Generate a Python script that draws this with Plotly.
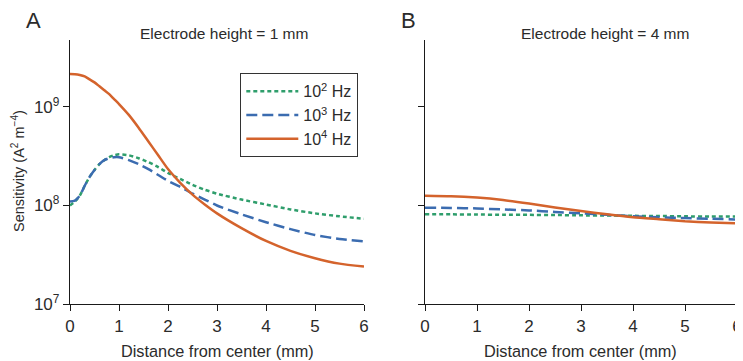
import plotly.graph_objects as go

# ---- data (log10 of sensitivity) ----
x_a = [0, 0.1, 0.2, 0.3, 0.4, 0.5, 0.6, 0.7, 0.8, 0.9, 1.0, 1.2, 1.4, 1.6, 1.8,
       2.0, 2.25, 2.5, 2.75, 3.0, 3.5, 4.0, 4.5, 5.0, 5.5, 6.0]
a_1e2_log = [8.0, 8.04, 8.10, 8.20, 8.29, 8.36, 8.42, 8.46, 8.49, 8.51, 8.52, 8.51,
             8.48, 8.44, 8.39, 8.33, 8.27, 8.21, 8.16, 8.12, 8.06, 8.01, 7.96, 7.92,
             7.89, 7.865]
a_1e3_log = [8.04, 8.05, 8.10, 8.20, 8.29, 8.36, 8.42, 8.46, 8.48, 8.49, 8.49, 8.46,
             8.42, 8.37, 8.31, 8.25, 8.19, 8.12, 8.06, 8.00, 7.91, 7.83, 7.76, 7.70,
             7.66, 7.635]
a_1e4_log = [9.335, 9.333, 9.325, 9.31, 9.28, 9.25, 9.21, 9.17, 9.13, 9.08, 9.03, 8.92,
             8.79, 8.65, 8.51, 8.37, 8.23, 8.11, 8.01, 7.92, 7.77, 7.64, 7.54, 7.465,
             7.41, 7.38]

x_b = [0, 0.5, 1.0, 1.5, 2.0, 2.5, 3.0, 3.5, 4.0, 4.5, 5.0, 5.5, 6.0]
b_1e2_log = [7.91, 7.91, 7.908, 7.906, 7.905, 7.903, 7.90, 7.898, 7.895, 7.893, 7.89,
             7.888, 7.887]
b_1e3_log = [7.977, 7.975, 7.97, 7.96, 7.95, 7.935, 7.92, 7.905, 7.89, 7.88, 7.872,
             7.865, 7.858]
b_1e4_log = [8.10, 8.095, 8.08, 8.055, 8.02, 7.98, 7.945, 7.91, 7.88, 7.86, 7.84,
             7.828, 7.82]

series_names = ["10<sup>2</sup> Hz", "10<sup>3</sup> Hz", "10<sup>4</sup> Hz"]
y_tickvals = [1e7, 1e8, 1e9]
y_ticktext = ["10<sup>7</sup>", "10<sup>8</sup>", "10<sup>9</sup>"]
x_tickvals = [0, 1, 2, 3, 4, 5, 6]

colors = ["#2f9e6c", "#3b6cb0", "#d4632c"]
dashes = ["4px,3px", "11px,5px", "solid"]

FONT = "Liberation Sans, Arial, sans-serif"
TXT = "#2b2b2b"

W, H = 743, 361
OFF = 8  # page body margin of the HTML page


def px(xr):
    return (xr - OFF) / W


def py(yr):
    return (H - (yr - OFF)) / H


fig = go.Figure()

a_series = [a_1e2_log, a_1e3_log, a_1e4_log]
b_series = [b_1e2_log, b_1e3_log, b_1e4_log]

for i in range(3):
    fig.add_trace(go.Scatter(
        x=x_a, y=[10 ** v for v in a_series[i]], mode="lines",
        name=series_names[i], line=dict(color=colors[i], width=2.5, dash=dashes[i], shape="spline", smoothing=0.6),
        xaxis="x", yaxis="y", showlegend=True))
for i in range(3):
    fig.add_trace(go.Scatter(
        x=x_b, y=[10 ** v for v in b_series[i]], mode="lines",
        name=series_names[i], line=dict(color=colors[i], width=2.5, dash=dashes[i], shape="spline", smoothing=0.6),
        xaxis="x2", yaxis="y2", showlegend=False))

ydom = [py(304), py(40)]

axis_common = dict(
    showline=True, linecolor="#1a1a1a", linewidth=1.3, ticks="outside",
    ticklen=6, tickcolor="#1a1a1a", tickwidth=1.3, showgrid=False, zeroline=False,
    automargin=False, ticklabeloverflow="allow",
    tickfont=dict(family=FONT, size=17, color=TXT),
)

fig.update_layout(
    template="none",
    width=W, height=H,
    margin=dict(l=0, r=0, t=0, b=0, pad=0),
    paper_bgcolor="white", plot_bgcolor="white",
    font=dict(family=FONT, color=TXT),
    xaxis=dict(domain=[px(70), px(364)], range=[0, 6], tickvals=x_tickvals,
               anchor="y", **axis_common),
    yaxis=dict(domain=ydom, type="log", range=[7, 9.68], tickvals=y_tickvals,
               ticktext=y_ticktext, anchor="x", **axis_common),
    xaxis2=dict(domain=[px(425), px(737)], range=[0, 6], tickvals=x_tickvals,
                anchor="y2", **axis_common),
    yaxis2=dict(domain=ydom, type="log", range=[7, 9.68], tickvals=y_tickvals,
                showticklabels=False, anchor="x2", **axis_common),
    legend=dict(x=px(240), y=py(73), xanchor="left", yanchor="top",
                bordercolor="#333", borderwidth=1.3, bgcolor="white",
                font=dict(family=FONT, size=16, color=TXT),
                tracegroupgap=0, itemwidth=52),
    showlegend=True,
)

ann = [
    dict(text="A", x=px(34), y=py(21), size=22),
    dict(text="B", x=px(408), y=py(21), size=22),
    dict(text="Electrode height = 1 mm", x=px(224), y=py(33), size=15.5),
    dict(text="Electrode height = 4 mm", x=px(605), y=py(33), size=15.5),
    dict(text="Distance from center (mm)", x=px(217), y=py(351), size=16.3),
    dict(text="Distance from center (mm)", x=px(580), y=py(351), size=16.3),
]
for a in ann:
    fig.add_annotation(text=a["text"], x=a["x"], y=a["y"], xref="paper", yref="paper",
                       showarrow=False, xanchor="center", yanchor="middle",
                       font=dict(family=FONT, size=a["size"], color=TXT))
fig.add_annotation(text="Sensitivity (A<sup>2</sup> m<sup>\u22124</sup>)", x=px(18), y=py(171),
                   xref="paper", yref="paper", showarrow=False, textangle=-90,
                   xanchor="center", yanchor="middle",
                   font=dict(family=FONT, size=14.5, color=TXT))

fig.write_html("out.html")
